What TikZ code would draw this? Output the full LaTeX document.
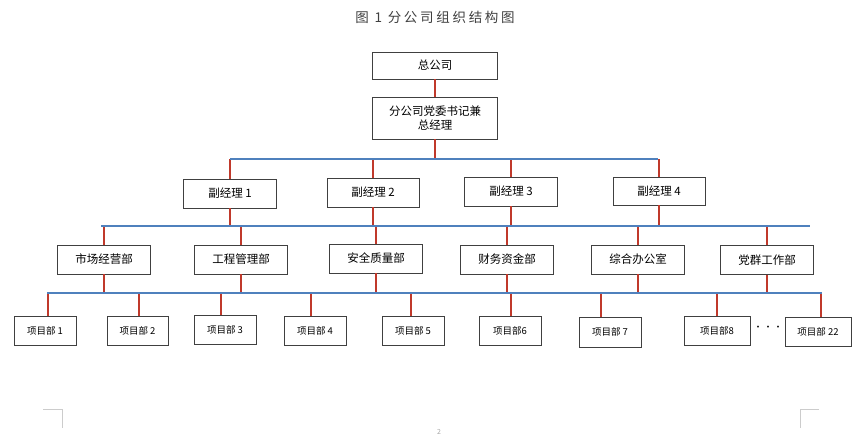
\documentclass[tikz,border=0pt]{standalone}
\usepackage{fontspec}
\setmainfont{Noto Sans CJK SC}
\newfontfamily\titlefont[LetterSpace=20]{Noto Sans CJK SC}
\definecolor{busblue}{HTML}{4F81BD}
\definecolor{linkred}{HTML}{C0392B}
\definecolor{boxgray}{HTML}{404040}
\tikzset{
  box/.style={draw=boxgray,line width=0.9pt,rectangle,inner sep=0pt,minimum width=93pt,minimum height=29pt},
  pbox/.style={box,minimum width=62pt,font=\fontsize{9.5}{11}\selectfont},
  link/.style={draw=linkred,line width=1.4pt},
  bus/.style={draw=busblue,line width=2pt}
}
\begin{document}
\begin{tikzpicture}[x=1pt,y=-1pt,every node/.style={font=\fontsize{11.5}{14}\selectfont}]
\useasboundingbox (0,0) rectangle (864,440);
\node[text=boxgray,font=\titlefont\fontsize{13.5}{15}\selectfont] (title) at (435,17) {图 1 分公司组织结构图};
% head office
\node[box,minimum width=125pt,minimum height=27pt] (top) at (435,65.5) {总公司};
\node[box,minimum width=125pt,minimum height=42pt,align=center] (gm) at (435,118) {分公司党委书记兼\\总经理};
% deputies
\node[box] (d1) at (230,193.5) {副经理 1};
\node[box,minimum width=92pt] (d2) at (373,192.5) {副经理 2};
\node[box] (d3) at (511,191.5) {副经理 3};
\node[box,minimum width=92pt,minimum height=28pt] (d4) at (659,191) {副经理 4};
% departments
\node[box] (m1) at (104,259.5) {市场经营部};
\node[box] (m2) at (241,259.5) {工程管理部};
\node[box] (m3) at (376,258.5) {安全质量部};
\node[box] (m4) at (507,259.5) {财务资金部};
\node[box] (m5) at (638,259.5) {综合办公室};
\node[box] (m6) at (767,260) {党群工作部};
% project offices
\node[pbox] (p1) at (45,330.5) {项目部 1};
\node[pbox,minimum width=61pt] (p2) at (137.5,330.5) {项目部 2};
\node[pbox] (p3) at (225,329.5) {项目部 3};
\node[pbox] (p4) at (315,330.5) {项目部 4};
\node[pbox] (p5) at (413,330.5) {项目部 5};
\node[pbox] (p6) at (510,330.5) {项目部6};
\node[pbox,minimum width=62pt,minimum height=30pt] (p7) at (610,332) {项目部 7};
\node[pbox,minimum width=66pt] (p8) at (717,330.5) {项目部8};
\node[pbox,minimum width=66pt] (p22) at (818,331.5) {项目部 22};
\node[inner sep=0pt,font=\fontsize{9}{10}\selectfont] (dots) at (768,328.5) {·\kern1pt·\kern1pt·};
% buses
\coordinate (b1w) at (230,159);
\coordinate (b1e) at (658,159);
\coordinate (b2w) at (101,226);
\coordinate (b2e) at (810,226);
\coordinate (b3w) at (47,293);
\coordinate (b3e) at (822,293);
\draw[link] (top) -- (gm);
\draw[link] (gm.south) -- (gm.south |- b1w);
\draw[link] (d1.north) -- (d1.north |- b1w);
\draw[link] (d2.north) -- (d2.north |- b1w);
\draw[link] (d3.north) -- (d3.north |- b1w);
\draw[link] (d4.north) -- (d4.north |- b1w);
\draw[link] (d1.south) -- (d1.south |- b2w);
\draw[link] (d2.south) -- (d2.south |- b2w);
\draw[link] (d3.south) -- (d3.south |- b2w);
\draw[link] (d4.south) -- (d4.south |- b2w);
\draw[link] (m1.north) -- (m1.north |- b2w);
\draw[link] (m2.north) -- (m2.north |- b2w);
\draw[link] (m3.north) -- (m3.north |- b2w);
\draw[link] (m4.north) -- (m4.north |- b2w);
\draw[link] (m5.north) -- (m5.north |- b2w);
\draw[link] (m6.north) -- (m6.north |- b2w);
\draw[link] (m1.south) -- (m1.south |- b3w);
\draw[link] (m2.south) -- (m2.south |- b3w);
\draw[link] (m3.south) -- (m3.south |- b3w);
\draw[link] (m4.south) -- (m4.south |- b3w);
\draw[link] (m5.south) -- (m5.south |- b3w);
\draw[link] (m6.south) -- (m6.south |- b3w);
\draw[link] ([xshift=3pt]p1.north) -- ([xshift=3pt]p1.north |- b3w);
\draw[link] ([xshift=1.5pt]p2.north) -- ([xshift=1.5pt]p2.north |- b3w);
\draw[link] ([xshift=-4pt]p3.north) -- ([xshift=-4pt]p3.north |- b3w);
\draw[link] ([xshift=-4pt]p4.north) -- ([xshift=-4pt]p4.north |- b3w);
\draw[link] ([xshift=-2pt]p5.north) -- ([xshift=-2pt]p5.north |- b3w);
\draw[link] ([xshift=1pt]p6.north) -- ([xshift=1pt]p6.north |- b3w);
\draw[link] ([xshift=-9pt]p7.north) -- ([xshift=-9pt]p7.north |- b3w);
\draw[link] (p8.north) -- (p8.north |- b3w);
\draw[link] ([xshift=3pt]p22.north) -- ([xshift=3pt]p22.north |- b3w);
\draw[bus] (b1w) -- (b1e);
\draw[bus] (b2w) -- (b2e);
\draw[bus] (b3w) -- (b3e);
% page corner marks and page number
\draw[black!20,line width=0.8pt] (43,409) -- (62,409) -- (62,428);
\draw[black!20,line width=0.8pt] (819,409) -- (800,409) -- (800,428);
\node[text=black!35,font=\fontsize{7}{8}\selectfont] (pageno) at (439,432) {2};
\end{tikzpicture}
\end{document}
